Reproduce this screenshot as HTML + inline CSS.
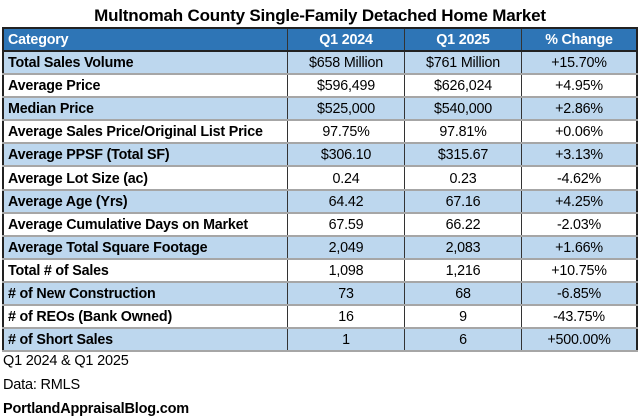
<!DOCTYPE html>
<html><head><meta charset="utf-8"><style>
html,body{margin:0;padding:0;background:#fff;width:640px;height:418px;overflow:hidden}
body{font-family:"Liberation Sans",Arial,sans-serif;color:#000;position:relative}
.title{position:absolute;top:6px;left:0;width:640px;text-align:center;font-weight:bold;font-size:17px;letter-spacing:-0.2px}
table{position:absolute;left:2px;top:27px;border-collapse:collapse;border:2px solid #222;font-size:14.3px;letter-spacing:-0.2px}
td{height:20.1px;padding:1px 0 0 0;border-left:1.5px solid #333;border-right:1.5px solid #333;border-bottom:2px solid #a6a6a6;text-align:center;line-height:20px;white-space:nowrap}
td:first-child{text-align:left;font-weight:bold;padding-left:4px;width:279px}
td:nth-child(2),td:nth-child(3){width:116px}
td:nth-child(4){width:114px}
tr.h td{background:#2E75B6;color:#fff;font-weight:bold;border-bottom:2px solid #222;height:20px}
tr.b td{background:#BDD7EE}
.f{position:absolute;left:3px;font-size:14.5px;letter-spacing:-0.2px}
</style></head><body>
<div class="title">Multnomah County Single-Family Detached Home Market</div>
<table>
<tr class="h"><td>Category</td><td>Q1 2024</td><td>Q1 2025</td><td>% Change</td></tr>
<tr class="b"><td>Total Sales Volume</td><td>$658 Million</td><td>$761 Million</td><td>+15.70%</td></tr>
<tr><td>Average Price</td><td>$596,499</td><td>$626,024</td><td>+4.95%</td></tr>
<tr class="b"><td>Median Price</td><td>$525,000</td><td>$540,000</td><td>+2.86%</td></tr>
<tr><td>Average Sales Price/Original List Price</td><td>97.75%</td><td>97.81%</td><td>+0.06%</td></tr>
<tr class="b"><td>Average PPSF (Total SF)</td><td>$306.10</td><td>$315.67</td><td>+3.13%</td></tr>
<tr><td>Average Lot Size (ac)</td><td>0.24</td><td>0.23</td><td>-4.62%</td></tr>
<tr class="b"><td>Average Age (Yrs)</td><td>64.42</td><td>67.16</td><td>+4.25%</td></tr>
<tr><td>Average Cumulative Days on Market</td><td>67.59</td><td>66.22</td><td>-2.03%</td></tr>
<tr class="b"><td>Average Total Square Footage</td><td>2,049</td><td>2,083</td><td>+1.66%</td></tr>
<tr><td>Total # of Sales</td><td>1,098</td><td>1,216</td><td>+10.75%</td></tr>
<tr class="b"><td># of New Construction</td><td>73</td><td>68</td><td>-6.85%</td></tr>
<tr><td># of REOs (Bank Owned)</td><td>16</td><td>9</td><td>-43.75%</td></tr>
<tr class="b"><td># of Short Sales</td><td>1</td><td>6</td><td>+500.00%</td></tr>
</table>
<div class="f" style="top:353px">Q1 2024 &amp; Q1 2025</div>
<div class="f" style="top:377px">Data: RMLS</div>
<div class="f" style="top:401px;font-weight:bold">PortlandAppraisalBlog.com</div>
</body></html>
